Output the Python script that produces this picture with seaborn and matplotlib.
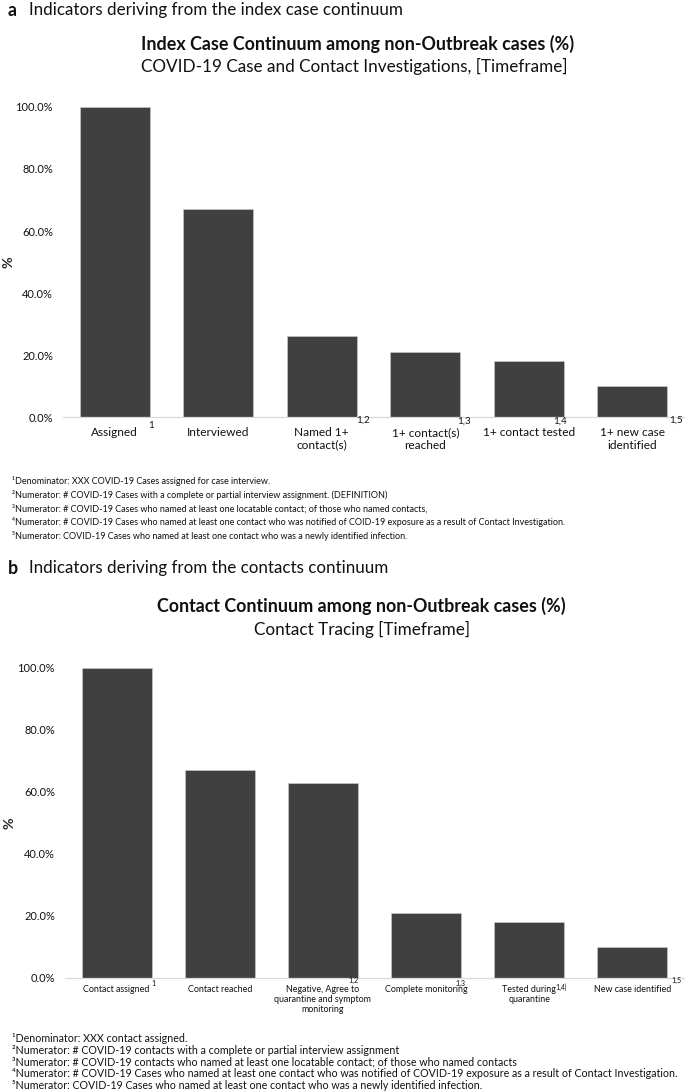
import numpy as np
import pandas as pd
import matplotlib
matplotlib.use("Agg")
import matplotlib.pyplot as plt
import seaborn as sns
from matplotlib.ticker import PercentFormatter, FixedLocator

# ---------------- data ----------------
cats_a = ["Assigned", "Interviewed", "Named 1+\ncontact(s)", "1+ contact(s)\nreached",
          "1+ contact tested", "1+ new case\nidentified"]
vals_a = [1.00, 0.67, 0.26, 0.21, 0.18, 0.10]
marks_a = ["1", "", "1,2", "1,3", "1,4", "1,5"]

cats_b = ["Contact assigned", "Contact reached",
          "Negative, Agree to\nquarantine and symptom\nmonitoring",
          "Complete monitoring", "Tested during\nquarantine", "New case identified"]
vals_b = [1.00, 0.67, 0.63, 0.21, 0.18, 0.10]
marks_b = ["1", "", "1,2", "1,3", "1,4ǀ", "1,5"]

yticks = [0.0, 0.2, 0.4, 0.6, 0.8, 1.0]

heading_a = "Indicators deriving from the index case continuum"
heading_b = "Indicators deriving from the contacts continuum"
title_a = "Index Case Continuum among non-Outbreak cases (%)"
sub_a = "COVID-19 Case and Contact Investigations, [Timeframe]"
title_b = "Contact Continuum among non-Outbreak cases (%)"
sub_b = "Contact Tracing [Timeframe]"

notes_a = [
    "¹Denominator: XXX COVID-19 Cases assigned for case interview.",
    "²Numerator: # COVID-19 Cases with a complete or partial interview assignment. (DEFINITION)",
    "³Numerator: # COVID-19 Cases who named at least one locatable contact; of those who named contacts,",
    "⁴Numerator: # COVID-19 Cases who named at least one contact who was notified of COID-19 exposure as a result of Contact Investigation.",
    "⁵Numerator: COVID-19 Cases who named at least one contact who was a newly identified infection.",
]
notes_b = [
    "¹Denominator: XXX contact assigned.",
    "²Numerator: # COVID-19 contacts with a complete or partial interview assignment",
    "³Numerator: # COVID-19 contacts who named at least one locatable contact; of those who named contacts",
    "⁴Numerator: # COVID-19 Cases who named at least one contact who was notified of COVID-19 exposure as a result of Contact Investigation.",
    "⁵Numerator: COVID-19 Cases who named at least one contact who was a newly identified infection.",
]

# ---------------- style ----------------
sns.set_style("white")
FAM = ["Lato", "DejaVu Sans"]
plt.rcParams["font.family"] = FAM
plt.rcParams["text.color"] = "#111111"

W, H = 685, 1091
fig = plt.figure(figsize=(W / 100, H / 100), dpi=100)
renderer = fig.canvas.get_renderer()


def fx(px):
    return px / W


def fy(py):
    return 1 - py / H


def fit_size(s, target, weight="normal"):
    t = fig.text(0, 0, s, fontsize=10, fontweight=weight, family=FAM)
    w = t.get_window_extent(renderer).width
    t.remove()
    return 10 * target / w


BAR = "#404040"

# fitted font sizes
fs_head = fit_size(heading_a, 373)
fs_title = fit_size(title_a, 432, "bold")
fs_sub = fit_size(sub_a, 425)
fs_ytick = fit_size("100.0%", 37)
fs_xa = fit_size("1+ contact tested", 92)
fs_xb = fit_size("Complete monitoring", 83)
fs_na = fit_size(notes_a[3], 551)
fs_nb = fit_size(notes_b[3], 664)


def panel(ax_rect, cats, vals, marks, mark_dx, mark_y, fs_x, xpad, x0px):
    ax = fig.add_axes(ax_rect)
    df = pd.DataFrame({"cat": cats, "val": vals})
    sns.barplot(data=df, x="cat", y="val", color=BAR, saturation=1, width=0.68,
                ax=ax, edgecolor="#cfcfcf", linewidth=0.4)
    ax.set_xlim(-0.5, len(cats) - 0.5)
    ax.set_ylim(0, 1.0)
    ax.yaxis.set_major_locator(FixedLocator(yticks))
    ax.yaxis.set_major_formatter(PercentFormatter(1.0, decimals=1))
    ax.tick_params(axis="y", length=0, pad=7.2, labelsize=fs_ytick, labelcolor="#111111")
    ax.tick_params(axis="x", length=0, pad=xpad, labelsize=fs_x, labelcolor="#111111")
    ax.set_xticks(range(len(cats)))
    ax.set_xticklabels(cats, linespacing=1.15)
    for sp in ["top", "right", "left"]:
        ax.spines[sp].set_visible(False)
    ax.spines["bottom"].set_color("#d9d9d9")
    ax.spines["bottom"].set_linewidth(0.9)
    ax.set_xlabel("")
    ax.set_ylabel("%", fontsize=fs_ytick * 1.3, fontweight="bold")
    ax.yaxis.set_label_coords(-(x0px - 15) / (ax_rect[2] * W), 0.5)
    for i, (m, dx, my) in enumerate(zip(marks, mark_dx, mark_y)):
        if m:
            ax.text(i + dx, my, m, transform=ax.get_xaxis_transform(),
                    fontsize=fs_x * 0.82, ha="center", va="center", color="#111111")
    return ax


# ---------------- panel a ----------------
a_left, a_right, a_top, a_bot = 63, 684, 107, 417
rect_a = [fx(a_left), fy(a_bot), (a_right - a_left) / W, (a_bot - a_top) / H]
panel(rect_a, cats_a, vals_a, marks_a,
      [0.35, 0, 0.40, 0.37, 0.30, 0.42],
      [-8 / 310, 0, -3 / 310, -4 / 310, -4 / 310, -3 / 310],
      fs_xa, 7.5, a_left)

# ---------------- panel b ----------------
b_left, b_right, b_top, b_bot = 65, 684, 668, 978
rect_b = [fx(b_left), fy(b_bot), (b_right - b_left) / W, (b_bot - b_top) / H]
panel(rect_b, cats_b, vals_b, marks_b,
      [0.36, 0, 0.30, 0.33, 0.31, 0.43],
      [-5 / 310, 0, -2 / 310, -5 / 310, -9 / 310, -2 / 310],
      fs_xb, 5.0, b_left)

# ---------------- headings / titles ----------------
for lab, txt, y in [("a", heading_a, 10), ("b", heading_b, 568)]:
    fig.text(fx(8), fy(y), lab, fontsize=fs_head * 1.05, fontweight="bold", va="center", ha="left")
    fig.text(fx(29), fy(y), txt, fontsize=fs_head, va="center", ha="left")

fig.text(fx(358), fy(44), title_a, fontsize=fs_title, fontweight="bold", ha="center", va="center")
fig.text(fx(354), fy(66), sub_a, fontsize=fs_sub, ha="center", va="center")
fig.text(fx(361), fy(606), title_b, fontsize=fs_title, fontweight="bold", ha="center", va="center")
fig.text(fx(362), fy(629), sub_b, fontsize=fs_sub, ha="center", va="center")

# ---------------- footnotes ----------------
for i, line in enumerate(notes_a):
    fig.text(fx(12), fy(481 + i * 13.8), line, fontsize=fs_na, ha="left", va="center")
for i, line in enumerate(notes_b):
    fig.text(fx(12), fy(1039 + i * 11.6), line, fontsize=fs_nb, ha="left", va="center")

fig.savefig("out.png", dpi=100, facecolor="white")
